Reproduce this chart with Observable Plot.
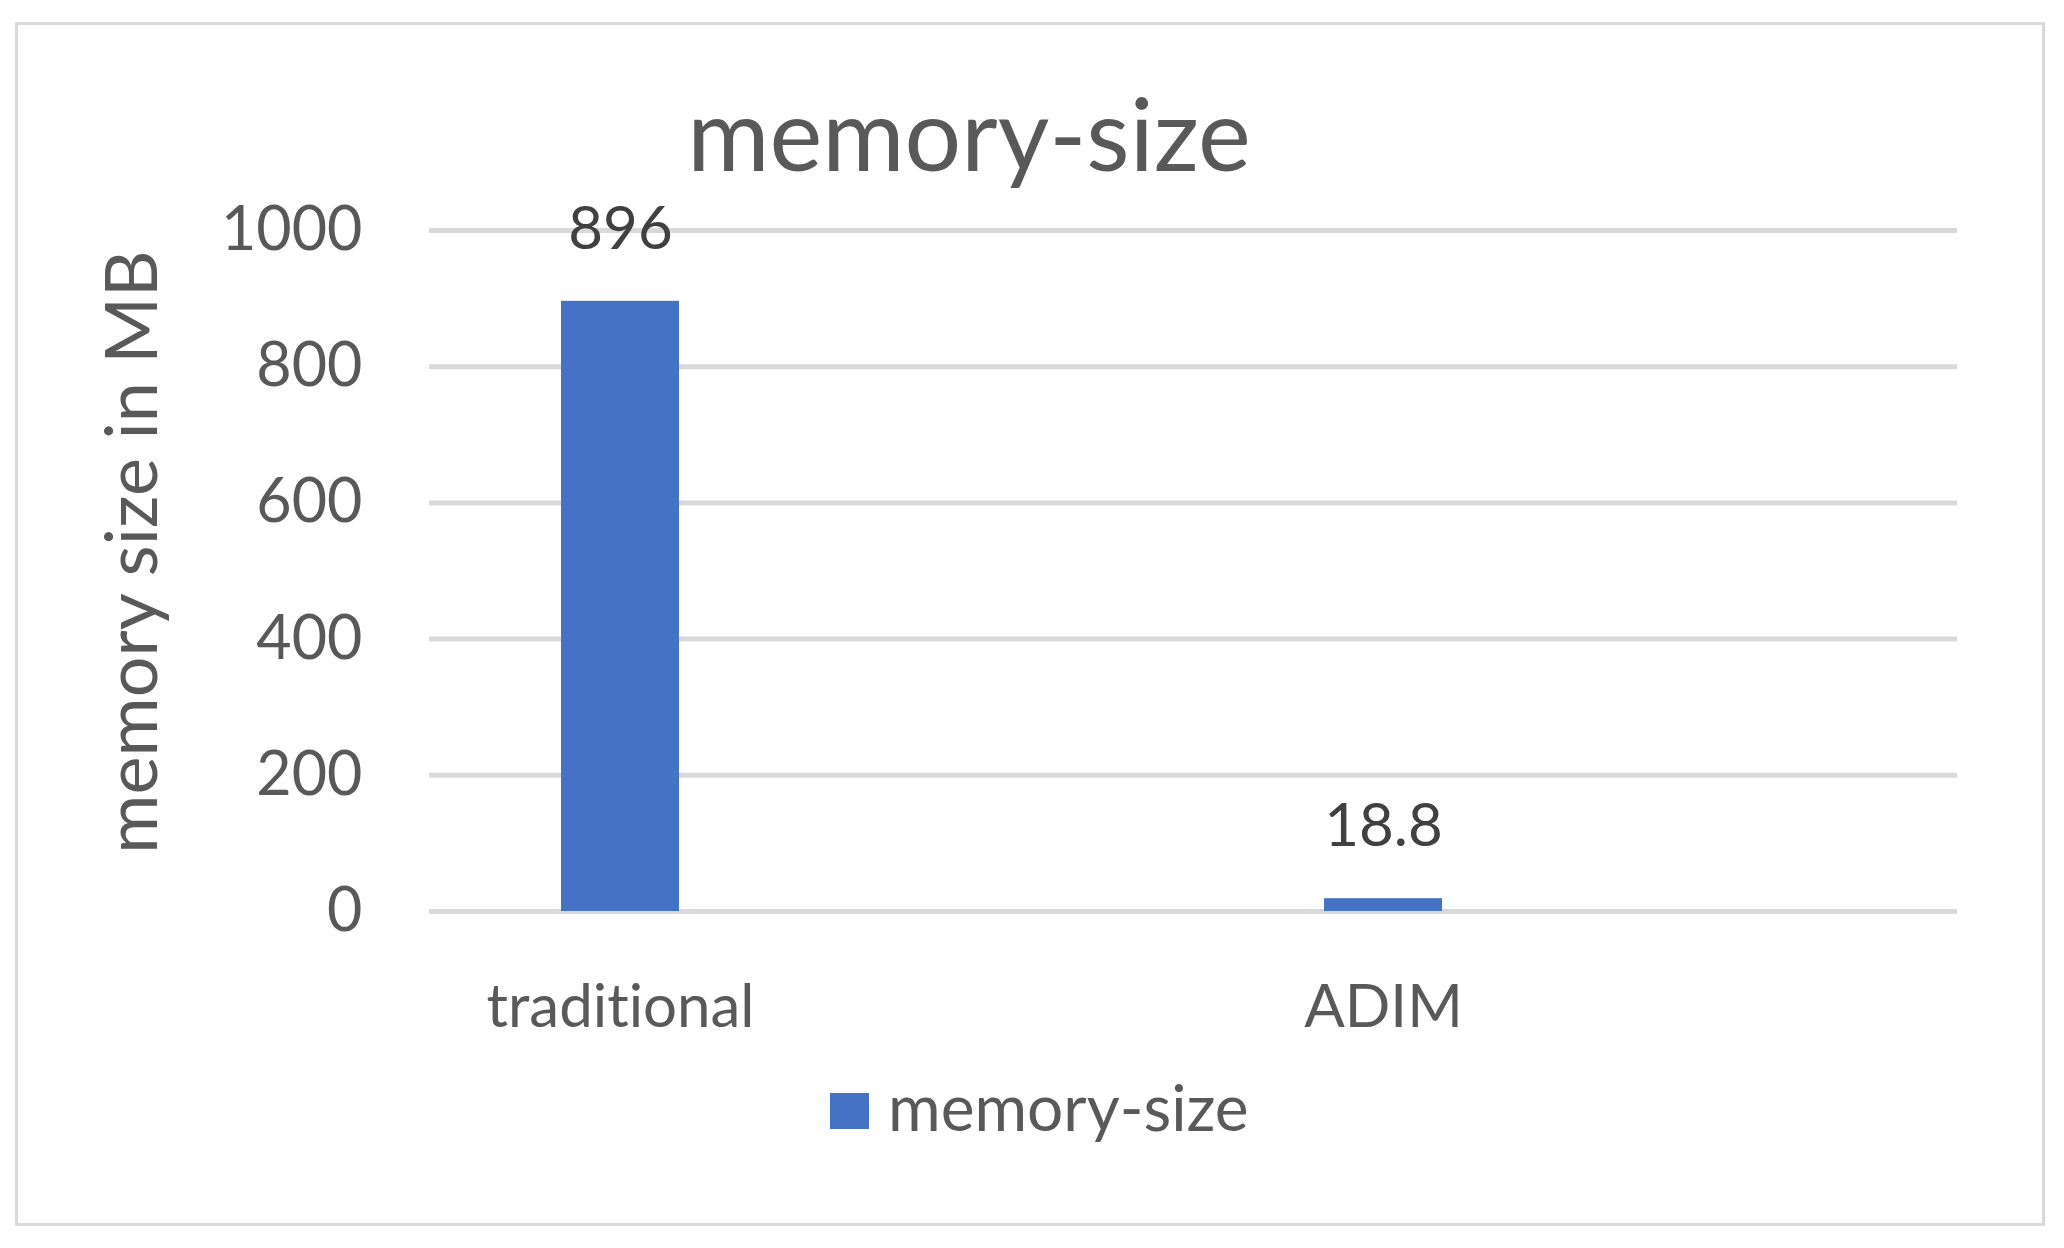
<!DOCTYPE html>
<html><head><meta charset="utf-8">
<script src="https://cdn.jsdelivr.net/npm/d3@7"></script>
<script src="https://cdn.jsdelivr.net/npm/@observablehq/plot@0.6"></script>
<style>
html,body{margin:0;padding:0;background:#fff}
body{width:2064px;height:1248px;position:relative;overflow:hidden;font-family:Lato,"Noto Sans",sans-serif;color:#595959;font-variant-ligatures:none;font-feature-settings:"liga" 0}
svg text{font-variant-ligatures:none;font-feature-settings:"liga" 0}
#frame{position:absolute;left:15px;top:22px;width:2030px;height:1204px;border:3px solid #d9d9d9;box-sizing:border-box}
#title{position:absolute;left:0;top:82px;width:1938px;text-align:center;font-size:100px;line-height:1;white-space:nowrap}
#chart{position:absolute;left:0;top:200px}
#legend-swatch{position:absolute;left:830px;top:1093px;width:39px;height:36px;background:#4472C4}
#legend-text{position:absolute;left:888px;top:1075px;font-size:64px;line-height:1;white-space:nowrap}
</style></head>
<body>
<div id="frame"></div>
<div id="title"></div>
<div id="chart"></div>
<div id="legend-swatch"></div>
<div id="legend-text"></div>
<script>
const titleText = "memory-size";
const seriesName = "memory-size";
const yLabel = "memory size in MB";
const categories = ["traditional", "ADIM"];
const values = [896, 18.8];
const valueLabels = ["896", "18.8"];
const yTicks = [0, 200, 400, 600, 800, 1000];

const data = categories.map((c, i) => ({category: c, value: values[i], label: valueLabels[i]}));

document.getElementById("title").textContent = titleText;
document.getElementById("legend-text").textContent = seriesName;

const chart = Plot.plot({
  width: 2064,
  height: 870,
  marginLeft: 429,
  marginRight: 107,
  marginTop: 30,
  marginBottom: 159,
  style: {fontFamily: "Lato, 'Noto Sans', sans-serif", background: "transparent", color: "#595959", overflow: "visible"},
  x: {type: "band", domain: categories, range: [237, 1765], paddingInner: 0.8455, paddingOuter: 0.4228},
  y: {domain: [0, 1000]},
  marks: [
    Plot.ruleY(yTicks, {stroke: "#d9d9d9", strokeWidth: 5}),
    Plot.barY(data, {x: "category", y: "value", fill: "#4472C4"}),
    Plot.text(data, {x: "category", y: "value", text: "label", dy: -72, fill: "#404040", fontSize: 60}),
    Plot.axisX({tickSize: 0, tickPadding: 73, fontSize: 60, label: null}),
    Plot.axisY({ticks: yTicks, tickFormat: "d", tickSize: 0, tickPadding: 67, fontSize: 61, label: null}),
    Plot.text([yLabel], {frameAnchor: "left", rotate: -90, lineAnchor: "bottom", textAnchor: "middle", dx: -273, dy: -19, fontSize: 72, fill: "#595959"})
  ]
});
document.getElementById("chart").appendChild(chart);
</script>
</body></html>
